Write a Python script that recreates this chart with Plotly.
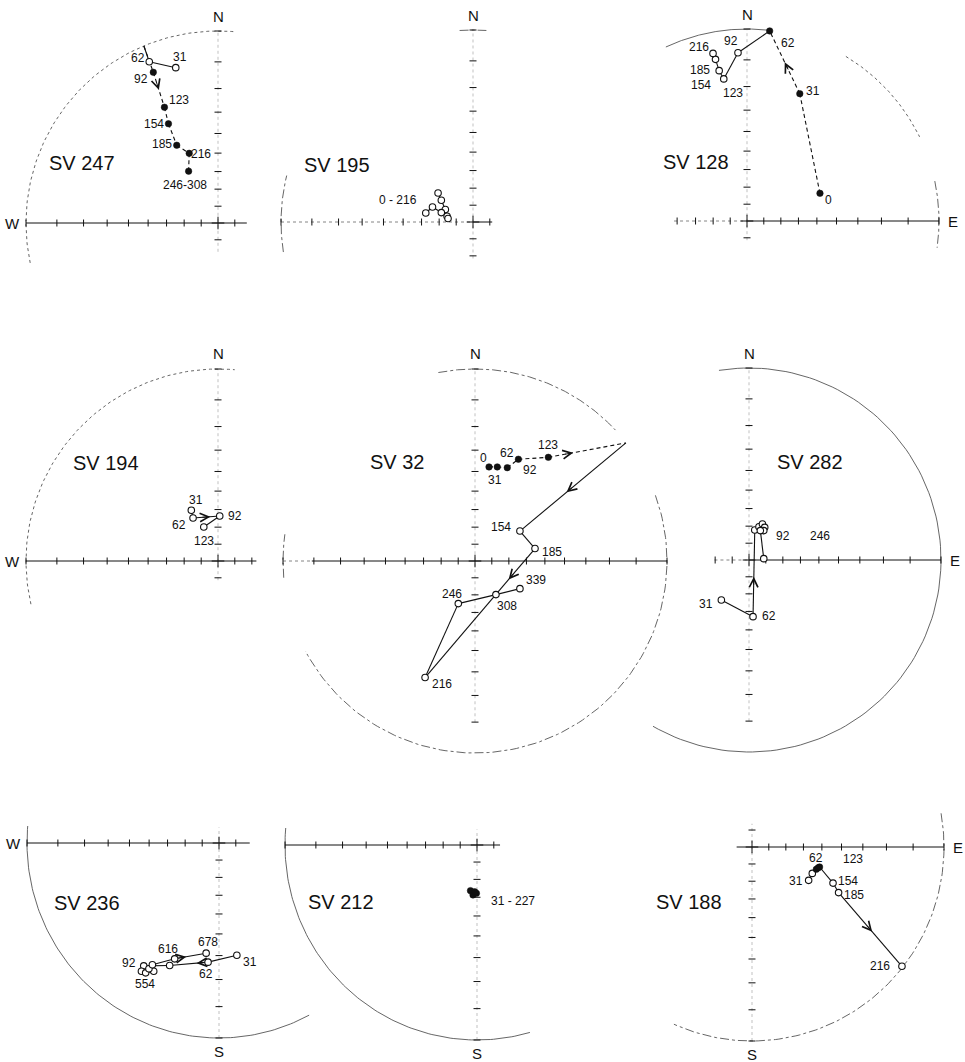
import math
import plotly.graph_objects as go

FIG_W, FIG_H = 965, 1062

# Demagnetisation paths on stereographic nets.
# east / north: projected position in units of the primitive radius.
# hemisphere: "U" upper (open symbol), "L" lower (solid symbol), "E" path meets the primitive.

SV247_steps = ["31", "62", "", "92", "123", "154", "185", "216", "246-308"]
SV247_east = [-0.220, -0.358, -0.386, -0.337, -0.279, -0.258, -0.215, -0.150, -0.153]
SV247_north = [0.809, 0.840, 0.922, 0.785, 0.603, 0.517, 0.405, 0.363, 0.270]
SV247_hemi = ["U", "U", "E", "L", "L", "L", "L", "L", "L"]

SV195_steps = ["", "", "", "", "", "", "", "0 - 216"]
SV195_east = [-0.182, -0.165, -0.144, -0.135, -0.130, -0.165, -0.211, -0.246]
SV195_north = [0.151, 0.113, 0.065, 0.030, 0.018, 0.049, 0.078, 0.047]
SV195_hemi = ["U"] * 8

SV128_steps = ["0", "31", "62", "92", "123", "154", "185", "216"]
SV128_east = [0.380, 0.275, 0.118, -0.047, -0.121, -0.145, -0.164, -0.177]
SV128_north = [0.144, 0.663, 0.990, 0.876, 0.740, 0.783, 0.842, 0.873]
SV128_hemi = ["L", "L", "L", "U", "U", "U", "U", "U"]

SV194_steps = ["31", "62", "92", "123"]
SV194_east = [-0.139, -0.130, 0.009, -0.074]
SV194_north = [0.264, 0.224, 0.234, 0.177]
SV194_hemi = ["U", "U", "U", "U"]

SV32_steps = ["0", "31", "62", "92", "123", "", "154", "185", "216", "246", "308", "339"]
SV32_east = [0.073, 0.116, 0.168, 0.226, 0.382, 0.786, 0.234, 0.3125, -0.260, -0.087, 0.109, 0.234]
SV32_north = [0.490, 0.490, 0.486, 0.530, 0.540, 0.615, 0.156, 0.065, -0.607, -0.222, -0.175, -0.144]
SV32_hemi = ["L", "L", "L", "L", "L", "E", "U", "U", "U", "U", "U", "U"]

SV282_steps = ["31", "62", "", "", "", "92", "246", "", ""]
SV282_east = [-0.144, 0.021, 0.030, 0.052, 0.070, 0.082, 0.077, 0.059, 0.077]
SV282_north = [-0.208, -0.295, 0.156, 0.173, 0.1875, 0.170, 0.153, 0.153, 0.007]
SV282_hemi = ["U"] * 9

SV236_steps = ["31", "62", "", "92", "", "", "554", "", "", "616", "678"]
SV236_east = [0.093, -0.057, -0.257, -0.392, -0.404, -0.382, -0.340, -0.365, -0.347, -0.231, -0.067]
SV236_north = [-0.576, -0.611, -0.628, -0.630, -0.658, -0.666, -0.658, -0.645, -0.624, -0.594, -0.565]
SV236_hemi = ["U"] * 11

SV212_steps = ["", "", "31 - 227", ""]
SV212_east = [-0.034, -0.021, -0.003, -0.012]
SV212_north = [-0.234, -0.256, -0.248, -0.240]
SV212_hemi = ["L"] * 4

SV188_steps = ["31", "", "62", "", "123", "154", "185", "216"]
SV188_east = [0.295, 0.314, 0.335, 0.345, 0.352, 0.422, 0.451, 0.781]
SV188_north = [-0.172, -0.136, -0.115, -0.107, -0.103, -0.186, -0.235, -0.615]
SV188_hemi = ["U", "U", "L", "L", "L", "U", "U", "U"]

# ---------------- layout of the nine nets ----------------
# cx, cy, rx, ry: net centre and radius on the page (px)
# ext: axis extent (W, E, N, S) in primitive radii; solid_w: solid part of the W arm
# arcs: visible parts of the primitive (azimuth from, to, dash)
PANELS = [
    dict(title="SV 247", d=(SV247_steps, SV247_east, SV247_north, SV247_hemi),
         cx=218, cy=223, rx=192, ry=192, ext=(1.0, 0.15, 1.0, 0.15), solid_w=1.0,
         arcs=[(258, 365, "dot")], dirs="NW", title_pos=(-0.71, 0.31),
         offsets={"31": (4, -11), "62": (-11, -4), "92": (-12, 7), "123": (15, -7),
                  "154": (-14, 0), "185": (-15, -1), "216": (12, 1), "246-308": (-4, 14)},
         arrows=[(3, 0.5)]),
    dict(title="SV 195", d=(SV195_steps, SV195_east, SV195_north, SV195_hemi),
         cx=473, cy=222, rx=192, ry=192, ext=(1.0, 0.1, 1.0, 0.19), solid_w=0.0,
         arcs=[(261, 284, "dashdot"), (356, 364, "dashdot")], dirs="N",
         title_pos=(-0.707, 0.298), offsets={"0 - 216": (-28, -13)}, arrows=[]),
    dict(title="SV 128", d=(SV128_steps, SV128_east, SV128_north, SV128_hemi),
         cx=747, cy=221, rx=192, ry=192, ext=(0.38, 1.0, 1.0, 0.1), solid_w=0.0,
         arcs=[(335, 367, "solid"), (31, 64, "dot"), (78, 98, "dashdot")], dirs="NE",
         title_pos=(-0.265, 0.305),
         offsets={"0": (9, 7), "31": (13, -3), "62": (18, 12), "92": (-7, -12),
                  "123": (9, 14), "154": (-18, 14), "185": (-16, 11), "216": (-14, -6)},
         arrows=[(1, 0.5)]),
    dict(title="SV 194", d=(SV194_steps, SV194_east, SV194_north, SV194_hemi),
         cx=218, cy=561, rx=192, ry=192, ext=(1.0, 0.2, 1.0, 0.1), solid_w=1.0,
         arcs=[(257, 365, "dot")], dirs="NW", title_pos=(-0.585, 0.511),
         offsets={"31": (5, -10), "62": (-14, 7), "92": (15, 0), "123": (0, 14)},
         arrows=[(1, 0.65)]),
    dict(title="SV 32", d=(SV32_steps, SV32_east, SV32_north, SV32_hemi),
         cx=475, cy=561, rx=192, ry=192, ext=(1.0, 1.0, 1.0, 0.84), solid_w=0.85,
         arcs=[(-11, 47, "dashdot"), (70, 242, "dashdot"), (265, 278, "dashdot")],
         dirs="N", title_pos=(-0.404, 0.517),
         offsets={"0": (-6, -9), "31": (-2, 13), "62": (0, -15), "92": (12, 11),
                  "123": (0, -12), "154": (-19, -4), "185": (17, 3), "216": (17, 6),
                  "246": (-6, -10), "308": (11, 11), "339": (16, -9)},
         arrows=[(4, 0.32), (5, 0.56), (7, 0.24)]),
    dict(title="SV 282", d=(SV282_steps, SV282_east, SV282_north, SV282_hemi),
         cx=749, cy=560, rx=192, ry=192, ext=(0.18, 1.0, 1.0, 0.84), solid_w=0.0,
         arcs=[(-9, 210, "solid")], dirs="NE", title_pos=(0.316, 0.513),
         offsets={"31": (-15, 4), "62": (16, -1), "92": (18, 9), "246": (56, 5)},
         arrows=[(1, 0.46)]),
    dict(title="SV 236", d=(SV236_steps, SV236_east, SV236_north, SV236_hemi),
         cx=219, cy=843, rx=192, ry=195, ext=(1.0, 0.16, 0.08, 1.0), solid_w=1.0,
         arcs=[(152, 275, "solid")], dirs="WS", title_pos=(-0.686, -0.309),
         offsets={"31": (13, 7), "62": (-2, 12), "92": (-15, -3), "554": (-9, 13),
                  "616": (-7, -10), "678": (2, -11)},
         arrows=[(1, 0.3), (9, 0.37)]),
    dict(title="SV 212", d=(SV212_steps, SV212_east, SV212_north, SV212_hemi),
         cx=477, cy=845, rx=192, ry=195, ext=(1.0, 0.12, 0.08, 1.0), solid_w=1.0,
         arcs=[(164, 275, "solid")], dirs="S", title_pos=(-0.706, -0.290),
         offsets={"31 - 227": (37, 8)}, arrows=[]),
    dict(title="SV 188", d=(SV188_steps, SV188_east, SV188_north, SV188_hemi),
         cx=752, cy=847, rx=192, ry=194, ext=(0.08, 1.0, 0.12, 1.0), solid_w=0.08,
         arcs=[(80, 204, "dashdot")], dirs="ES", title_pos=(-0.326, -0.282),
         offsets={"31": (-13, 1), "62": (0, -11), "123": (33, -8), "154": (15, -2),
                  "185": (15, 2), "216": (-22, 0)},
         arrows=[(6, 0.53)]),
]

FONT = "Liberation Sans"
INK = "#111111"
TICK_R = [math.tan(math.radians((90 - 10 * k) / 2)) for k in range(1, 9)] + [1.0]

fig = go.Figure()
annotations = []


def axis_names(i):
    s = "" if i == 0 else str(i + 1)
    return "x" + s, "y" + s, "xaxis" + s, "yaxis" + s


def segment_style(hemi, i):
    h = hemi[i + 1]
    if h == "E":
        h = hemi[i]
    return "dash" if h == "L" else "solid"


for i, p in enumerate(PANELS):
    xa, ya, xkey, ykey = axis_names(i)
    pad = 1.25
    x0 = max(0.0, p["cx"] - pad * p["rx"])
    x1 = min(FIG_W, p["cx"] + pad * p["rx"])
    y0 = max(0.0, p["cy"] - pad * p["ry"])
    y1 = min(FIG_H, p["cy"] + pad * p["ry"])
    fig.layout[xkey] = dict(domain=[x0 / FIG_W, x1 / FIG_W],
                            range=[(x0 - p["cx"]) / p["rx"], (x1 - p["cx"]) / p["rx"]],
                            visible=False, fixedrange=True, anchor=ya)
    fig.layout[ykey] = dict(domain=[1 - y1 / FIG_H, 1 - y0 / FIG_H],
                            range=[(p["cy"] - y1) / p["ry"], (p["cy"] - y0) / p["ry"]],
                            visible=False, fixedrange=True, anchor=xa)
    common = dict(xaxis=xa, yaxis=ya, showlegend=False, hoverinfo="skip")

    # primitive circle (visible parts only)
    for a0, a1, dash in p["arcs"]:
        az = [math.radians(a0 + (a1 - a0) * t / 120) for t in range(121)]
        fig.add_trace(go.Scatter(x=[math.sin(a) for a in az], y=[math.cos(a) for a in az],
                                 mode="lines", line=dict(color="#555555", width=0.9, dash=dash),
                                 **common))

    ew, ee, en, es = p["ext"]
    # E-W axis: solid arm with vertical ticks
    fig.add_trace(go.Scatter(x=[-p["solid_w"], ee], y=[0, 0], mode="lines",
                             line=dict(color=INK, width=1), **common))
    if p["solid_w"] < ew:
        fig.add_trace(go.Scatter(x=[-ew, -p["solid_w"]], y=[0, 0], mode="lines",
                                 line=dict(color="#666666", width=0.8, dash="dot"), **common))
    # N-S axis: faint dotted line with horizontal ticks
    fig.add_trace(go.Scatter(x=[0, 0], y=[-es, en], mode="lines",
                             line=dict(color="#999999", width=0.6, dash="dot"), **common))
    tx = [-r for r in TICK_R if r <= ew + 1e-3] + [r for r in TICK_R if r <= ee + 1e-3]
    ty = [r for r in TICK_R if r <= en + 1e-3] + [-r for r in TICK_R if r <= es + 1e-3]
    fig.add_trace(go.Scatter(x=tx, y=[0] * len(tx), mode="markers", cliponaxis=False,
                             marker=dict(symbol="line-ns", size=5, line=dict(width=1, color=INK)),
                             **common))
    fig.add_trace(go.Scatter(x=[0] * len(ty), y=ty, mode="markers", cliponaxis=False,
                             marker=dict(symbol="line-ew", size=5, line=dict(width=1, color=INK)),
                             **common))
    fig.add_trace(go.Scatter(x=[0], y=[0], mode="markers", cliponaxis=False,
                             marker=dict(symbol="cross-thin", size=9, line=dict(width=1, color=INK)),
                             **common))

    steps, east, north, hemi = p["d"]
    # path segments: dashed in the lower hemisphere, solid in the upper
    seg = {"solid": ([], []), "dash": ([], [])}
    for k in range(len(east) - 1):
        sx, sy = seg[segment_style(hemi, k)]
        sx += [east[k], east[k + 1], None]
        sy += [north[k], north[k + 1], None]
    for style, (sx, sy) in seg.items():
        if sx:
            fig.add_trace(go.Scatter(x=sx, y=sy, mode="lines",
                                     line=dict(color=INK, width=1.1,
                                               dash="solid" if style == "solid" else "4px,3px"),
                                     **common))
    # arrows showing the sense of the path
    for k, f in p["arrows"]:
        dx, dy = east[k + 1] - east[k], north[k + 1] - north[k]
        ln = math.hypot(dx, dy)
        tipx, tipy = east[k] + f * dx, north[k] + f * dy
        annotations.append(dict(x=tipx, y=tipy, ax=tipx - 0.05 * dx / ln, ay=tipy - 0.05 * dy / ln,
                                xref=xa, yref=ya, axref=xa, ayref=ya, text="", showarrow=True,
                                arrowhead=5, arrowsize=1.7, arrowwidth=1, arrowcolor=INK, standoff=0))
    # symbols
    ou = [k for k, h in enumerate(hemi) if h == "U"]
    fl = [k for k, h in enumerate(hemi) if h == "L"]
    if ou:
        fig.add_trace(go.Scatter(x=[east[k] for k in ou], y=[north[k] for k in ou], mode="markers",
                                 cliponaxis=False,
                                 marker=dict(symbol="circle", size=6.5, color="white",
                                             line=dict(width=1.1, color=INK)), **common))
    if fl:
        fig.add_trace(go.Scatter(x=[east[k] for k in fl], y=[north[k] for k in fl], mode="markers",
                                 cliponaxis=False,
                                 marker=dict(symbol="circle", size=6.5, color=INK,
                                             line=dict(width=0.5, color=INK)), **common))
    # step labels
    for k, s in enumerate(steps):
        if s:
            ox, oy = p["offsets"].get(s, (10, 0))
            annotations.append(dict(x=east[k], y=north[k], xref=xa, yref=ya, text=s,
                                    showarrow=False, xshift=ox, yshift=-oy,
                                    font=dict(family=FONT, size=12, color=INK)))
    # sample name
    annotations.append(dict(x=p["title_pos"][0], y=p["title_pos"][1], xref=xa, yref=ya,
                            text=p["title"], showarrow=False,
                            font=dict(family=FONT, size=20, color=INK)))
    # compass letters
    where = {"N": (0, 1, 0, 15), "S": (0, -1, 0, -13), "W": (-1, 0, -14, 0), "E": (1, 0, 14, 0)}
    for c in p["dirs"]:
        ux, uy, sx_, sy_ = where[c]
        annotations.append(dict(x=ux, y=uy, xref=xa, yref=ya, text=c, showarrow=False,
                                xshift=sx_, yshift=sy_, borderpad=0,
                                font=dict(family=FONT, size=15, color=INK)))

fig.update_layout(width=FIG_W, height=FIG_H, margin=dict(l=0, r=0, t=0, b=0),
                  paper_bgcolor="white", plot_bgcolor="rgba(0,0,0,0)",
                  annotations=annotations, showlegend=False)
fig.write_html("out.html")
